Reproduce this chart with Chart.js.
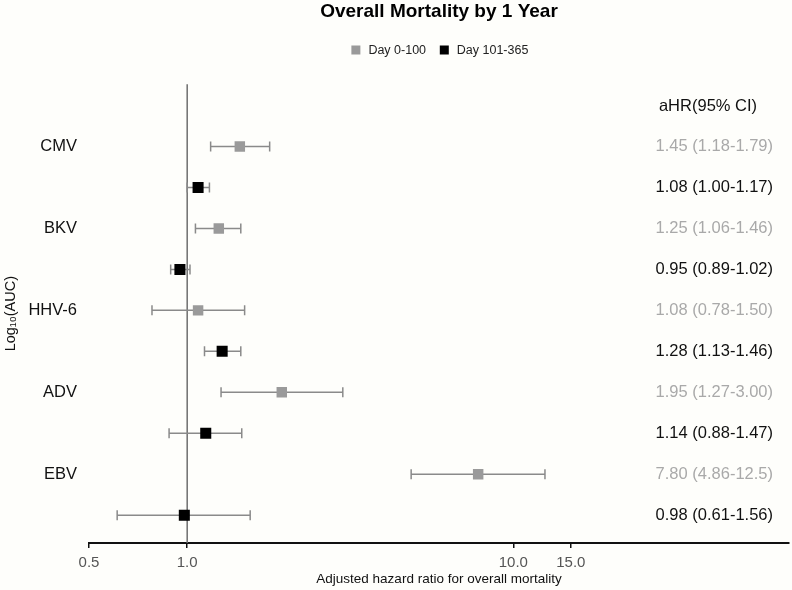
<!DOCTYPE html>
<html>
<head>
<meta charset="utf-8">
<script src="https://cdn.jsdelivr.net/npm/chart.js@4.4.1/dist/chart.umd.min.js"></script>
<style>
  html, body { margin: 0; padding: 0; background: #fefefb; }
  #wrap { width: 792px; height: 590px; }
</style>
</head>
<body>
<div id="wrap"><canvas id="forest" width="792" height="590"></canvas></div>
<script>
// viruses, one pair of rows each (Day 0-100 then Day 101-365)
const viruses = ['CMV', 'BKV', 'HHV-6', 'ADV', 'EBV'];

const earlyHR   = [1.45, 1.25, 1.08, 1.95, 7.80];
const earlyLow  = [1.18, 1.06, 0.78, 1.27, 4.86];
const earlyHigh = [1.79, 1.46, 1.50, 3.00, 12.5];

const lateHR   = [1.08, 0.95, 1.28, 1.14, 0.98];
const lateLow  = [1.00, 0.89, 1.13, 0.88, 0.61];
const lateHigh = [1.17, 1.02, 1.46, 1.47, 1.56];

const xTicks = [0.5, 1, 10, 15];

const FONT = '"Liberation Sans", Arial, Helvetica, sans-serif';
const GREY = '#9a9a9a';

const fmt = v => (v < 10 ? v.toFixed(2) : v.toFixed(1));

// whiskers + vertical reference line
const errorBars = {
  id: 'errorBars',
  beforeDatasetsDraw(chart) {
    const { ctx, chartArea, scales: { x, y } } = chart;
    ctx.save();
    // line at HR = 1
    const x1 = x.getPixelForValue(1);
    ctx.strokeStyle = '#6e6e6e';
    ctx.lineWidth = 1.5;
    ctx.beginPath();
    ctx.moveTo(x1, chartArea.top);
    ctx.lineTo(x1, chartArea.bottom);
    ctx.stroke();

    ctx.strokeStyle = '#8a8a8a';
    ctx.lineWidth = 1.5;
    chart.data.datasets.forEach(ds => {
      ds.data.forEach((p, i) => {
        const xl = x.getPixelForValue(ds.lo[i]);
        const xh = x.getPixelForValue(ds.hi[i]);
        const py = y.getPixelForValue(p.y);
        ctx.beginPath();
        ctx.moveTo(xl, py); ctx.lineTo(xh, py);
        ctx.moveTo(xl, py - 5); ctx.lineTo(xl, py + 5);
        ctx.moveTo(xh, py - 5); ctx.lineTo(xh, py + 5);
        ctx.stroke();
      });
    });
    ctx.restore();
  }
};

// aHR (95% CI) column on the right
const hrColumn = {
  id: 'hrColumn',
  afterDraw(chart) {
    const { ctx, chartArea, scales: { y } } = chart;
    const right = chartArea.right - 16;
    ctx.save();
    ctx.font = '16.5px ' + FONT;
    ctx.textBaseline = 'middle';
    ctx.textAlign = 'center';
    ctx.fillStyle = '#111';
    ctx.fillText('aHR(95% CI)', right - 65, y.getPixelForValue(0) + 1);
    ctx.textAlign = 'right';
    chart.data.datasets.forEach(ds => {
      ctx.fillStyle = ds.textColor;
      ds.data.forEach((p, i) => {
        const txt = fmt(p.x) + ' (' + fmt(ds.lo[i]) + '-' + fmt(ds.hi[i]) + ')';
        ctx.fillText(txt, right, y.getPixelForValue(p.y));
      });
    });
    ctx.restore();
  }
};

// extra gap under the legend
const legendGap = {
  id: 'legendGap',
  beforeInit(chart) {
    const fit = chart.legend.fit;
    chart.legend.fit = function () {
      fit.call(this);
      this.height += 18;
    };
  }
};

new Chart(document.getElementById('forest'), {
  type: 'scatter',
  data: {
    datasets: [
      {
        label: 'Day 0-100',
        data: earlyHR.map((v, i) => ({ x: v, y: 2 * i + 1 })),
        lo: earlyLow, hi: earlyHigh,
        backgroundColor: GREY,
        borderWidth: 0,
        pointStyle: 'rect',
        pointRadius: 7.4,
        pointHoverRadius: 7.4,
        textColor: '#a9a9a9'
      },
      {
        label: 'Day 101-365',
        data: lateHR.map((v, i) => ({ x: v, y: 2 * i + 2 })),
        lo: lateLow, hi: lateHigh,
        backgroundColor: '#000',
        borderWidth: 0,
        pointStyle: 'rect',
        pointRadius: 7.8,
        pointHoverRadius: 7.8,
        textColor: '#111'
      }
    ]
  },
  options: {
    responsive: false,
    animation: false,
    layout: { autoPadding: false, padding: { left: 0, right: 3, top: 0, bottom: 0 } },
    plugins: {
      title: {
        display: true,
        fullSize: false,
        text: 'Overall Mortality by 1 Year',
        color: '#000',
        font: { family: FONT, size: 19, weight: 'bold' },
        padding: { top: 0, bottom: 9 }
      },
      legend: {
        display: true,
        fullSize: false,
        position: 'top',
        labels: {
          color: '#222',
          font: { family: FONT, size: 12.5 },
          usePointStyle: true,
          boxHeight: 9,
          padding: 12
        }
      },
      tooltip: { enabled: false }
    },
    scales: {
      x: {
        type: 'logarithmic',
        min: 0.5,
        max: 70,
        afterBuildTicks: s => { s.ticks = xTicks.map(v => ({ value: v })); },
        afterFit: s => { s.height = 47; },
        border: { display: true, color: '#111', width: 2 },
        grid: { display: true, drawOnChartArea: false, drawTicks: true, tickLength: 5, color: '#111', lineWidth: 1.5 },
        ticks: {
          autoSkip: false,
          maxRotation: 0,
          padding: 6,
          color: '#555',
          font: { family: FONT, size: 15 },
          callback: v => Number(v).toFixed(1)
        },
        title: {
          display: true,
          text: 'Adjusted hazard ratio for overall mortality',
          color: '#111',
          font: { family: FONT, size: 13.5 },
          padding: { top: 0, bottom: 3 }
        }
      },
      y: {
        type: 'linear',
        reverse: true,
        min: -0.52,
        max: 10.68,
        afterBuildTicks: s => { s.ticks = viruses.map((v, i) => ({ value: 2 * i + 1 })); },
        afterFit: s => { s.width = 89; },
        border: { display: false },
        grid: { display: false },
        ticks: {
          autoSkip: false,
          padding: 4,
          color: '#111',
          font: { family: FONT, size: 16.5 },
          callback: v => viruses[(v - 1) / 2]
        },
        title: {
          display: true,
          text: 'Log\u2081\u2080(AUC)',
          color: '#111',
          font: { family: FONT, size: 14.5 },
          padding: { top: 2, bottom: 0 }
        }
      }
    }
  },
  plugins: [errorBars, hrColumn, legendGap]
});
</script>
</body>
</html>
